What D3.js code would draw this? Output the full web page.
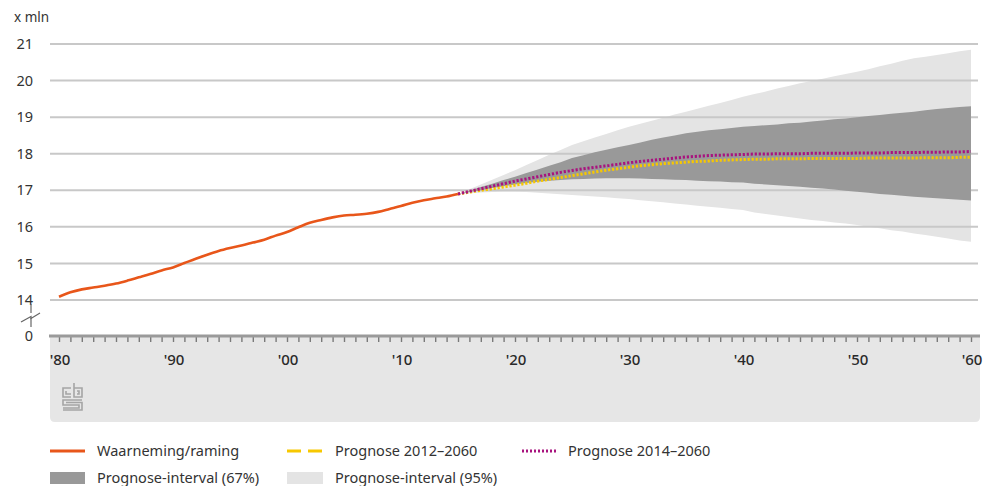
<!DOCTYPE html>
<html>
<head>
<meta charset="utf-8">
<script src="https://cdn.jsdelivr.net/npm/d3@7"></script>
<style>
  html, body { margin: 0; padding: 0; background: #fff; }
  svg { display: block; font-family: "Noto Sans", "Open Sans", sans-serif; }
</style>
</head>
<body>
<svg id="chart" width="984" height="486"></svg>
<script>
// Bevolking Nederland, x mln
const obsYears = d3.range(1980, 2016);
const observed = [14.09, 14.21, 14.29, 14.34, 14.39, 14.45, 14.53, 14.62, 14.71, 14.81,
                  14.89, 15.01, 15.13, 15.24, 15.34, 15.42, 15.49, 15.57, 15.65, 15.76,
                  15.86, 15.99, 16.11, 16.19, 16.26, 16.31, 16.33, 16.36, 16.41, 16.49,
                  16.57, 16.66, 16.73, 16.78, 16.83, 16.90];

const fcYears = d3.range(2015, 2061);
const prognose2014 = [16.90, 16.97, 17.04, 17.11, 17.18, 17.25, 17.31, 17.37, 17.43, 17.49,
                      17.54, 17.59, 17.63, 17.67, 17.71, 17.75, 17.79, 17.82, 17.85, 17.88,
                      17.91, 17.93, 17.95, 17.96, 17.97, 17.98, 17.99, 17.99, 18.00, 18.00,
                      18.00, 18.01, 18.01, 18.01, 18.01, 18.02, 18.02, 18.02, 18.03, 18.03,
                      18.03, 18.04, 18.04, 18.05, 18.05, 18.06];
const prognose2012 = [16.90, 16.95, 17.00, 17.04, 17.09, 17.14, 17.19, 17.25, 17.30, 17.35,
                      17.40, 17.45, 17.50, 17.55, 17.59, 17.63, 17.67, 17.70, 17.73, 17.75,
                      17.77, 17.79, 17.80, 17.82, 17.83, 17.84, 17.85, 17.85, 17.86, 17.86,
                      17.86, 17.87, 17.87, 17.87, 17.87, 17.87, 17.88, 17.88, 17.88, 17.88,
                      17.88, 17.89, 17.89, 17.89, 17.90, 17.90];
const interval67Upper = [16.90, 16.99, 17.09, 17.18, 17.28, 17.37, 17.47, 17.57, 17.67, 17.77,
                         17.88, 17.96, 18.04, 18.11, 18.18, 18.24, 18.31, 18.38, 18.44, 18.50,
                         18.56, 18.60, 18.64, 18.67, 18.70, 18.74, 18.76, 18.78, 18.80, 18.83,
                         18.85, 18.88, 18.91, 18.94, 18.96, 19.00, 19.03, 19.06, 19.09, 19.12,
                         19.15, 19.19, 19.22, 19.25, 19.28, 19.30];
const interval67Lower = [16.90, 16.95, 17.00, 17.06, 17.11, 17.16, 17.20, 17.23, 17.26, 17.28,
                         17.30, 17.31, 17.32, 17.33, 17.33, 17.33, 17.32, 17.31, 17.30, 17.29,
                         17.28, 17.26, 17.25, 17.24, 17.22, 17.21, 17.18, 17.16, 17.14, 17.12,
                         17.10, 17.07, 17.05, 17.02, 16.99, 16.96, 16.93, 16.90, 16.88, 16.85,
                         16.82, 16.80, 16.78, 16.76, 16.74, 16.72];
const interval95Upper = [16.90, 17.03, 17.16, 17.29, 17.42, 17.55, 17.69, 17.83, 17.97, 18.10,
                         18.24, 18.34, 18.44, 18.54, 18.64, 18.74, 18.82, 18.90, 18.98, 19.07,
                         19.15, 19.23, 19.31, 19.39, 19.47, 19.56, 19.63, 19.70, 19.78, 19.85,
                         19.93, 19.99, 20.05, 20.12, 20.18, 20.24, 20.31, 20.39, 20.46, 20.54,
                         20.61, 20.65, 20.70, 20.75, 20.80, 20.84];
const interval95Lower = [16.90, 16.92, 16.94, 16.95, 16.96, 16.96, 16.95, 16.93, 16.91, 16.89,
                         16.87, 16.85, 16.83, 16.81, 16.78, 16.76, 16.73, 16.70, 16.67, 16.64,
                         16.61, 16.58, 16.55, 16.52, 16.49, 16.46, 16.39, 16.35, 16.31, 16.27,
                         16.23, 16.19, 16.16, 16.12, 16.09, 16.05, 16.00, 15.96, 15.91, 15.87,
                         15.82, 15.78, 15.73, 15.68, 15.63, 15.59];

const yTicks = [14, 15, 16, 17, 18, 19, 20, 21];
const xLabelYears = [1980, 1990, 2000, 2010, 2020, 2030, 2040, 2050, 2060];
const legendItems = [
  "Waarneming/raming", "Prognose 2012\u20132060", "Prognose 2014\u20132060",
  "Prognose-interval (67%)", "Prognose-interval (95%)"
];

const colors = {
  observed: "#e8561a", p2012: "#f7c800", p2014: "#a8137e",
  band67: "#999999", band95: "#e4e4e4", grid: "#c8c8c8", text: "#333333"
};

const svg = d3.select("#chart");
const x = d3.scaleLinear().domain([1980, 2060]).range([59, 971]);
const y = d3.scaleLinear().domain([14, 21]).range([300, 44]);
const gridLeft = 50, gridRight = 978;
const axisY = 336;

// grey panel beneath the time axis
svg.append("path")
  .attr("d", (() => {
    const l = gridLeft, r = 980, t = axisY, b = 422, rad = 5;
    return `M${l},${t}H${r}V${b - rad}Q${r},${b} ${r - rad},${b}H${l + rad}Q${l},${b} ${l},${b - rad}Z`;
  })())
  .attr("fill", "#e6e6e6");

const fc = fcYears.map((yr, i) => ({
  yr, p12: prognose2012[i], p14: prognose2014[i],
  u67: interval67Upper[i], l67: interval67Lower[i],
  u95: interval95Upper[i], l95: interval95Lower[i]
}));

// 95% interval
svg.append("path")
  .datum(fc)
  .attr("fill", colors.band95)
  .attr("d", d3.area().x(d => x(d.yr)).y0(d => y(d.l95)).y1(d => y(d.u95)));

// gridlines
svg.append("g").selectAll("line").data(yTicks).join("line")
  .attr("x1", gridLeft).attr("x2", gridRight)
  .attr("y1", d => y(d)).attr("y2", d => y(d))
  .attr("stroke", colors.grid).attr("stroke-width", 2);

// 67% interval
svg.append("path")
  .datum(fc)
  .attr("fill", colors.band67)
  .attr("d", d3.area().x(d => x(d.yr)).y0(d => y(d.l67)).y1(d => y(d.u67)));

// y labels
svg.append("g").selectAll("text").data(yTicks).join("text")
  .attr("x", 33).attr("y", d => y(d)).attr("dy", "0.35em")
  .attr("text-anchor", "end")
  .attr("font-size", 14.5).attr("fill", colors.text)
  .text(d => d);
svg.append("text").attr("x", 33).attr("y", axisY).attr("dy", "0.35em")
  .attr("text-anchor", "end").attr("font-size", 14.5).attr("fill", colors.text).text("0");
svg.append("text").attr("x", 14).attr("y", 17).attr("dy", "0.35em")
  .attr("font-size", 13.5).attr("fill", colors.text).text("x mln");

// axis break mark
const brk = svg.append("g").attr("stroke", "#666").attr("stroke-width", 1.2).attr("fill", "none");
brk.append("line").attr("x1", 31).attr("x2", 31).attr("y1", 304).attr("y2", 313);
brk.append("path").attr("d", "M21,322 L31,316.5 L31,318.5 L40,313");
brk.append("line").attr("x1", 31).attr("x2", 31).attr("y1", 318).attr("y2", 327);

// lines
const line = d3.line().x(d => x(d[0])).y(d => y(d[1])).curve(d3.curveMonotoneX);
svg.append("path")
  .datum(obsYears.map((yr, i) => [yr, observed[i]]))
  .attr("fill", "none").attr("stroke", colors.observed).attr("stroke-width", 2.6)
  .attr("d", line);
svg.append("path")
  .datum(fc.map(d => [d.yr, d.p12]))
  .attr("fill", "none").attr("stroke", colors.p2012).attr("stroke-width", 3)
  .attr("stroke-dasharray", "2.2,1.8")
  .attr("d", line);
svg.append("path")
  .datum(fc.map(d => [d.yr, d.p14]))
  .attr("fill", "none").attr("stroke", colors.p2014).attr("stroke-width", 3)
  .attr("stroke-dasharray", "2.2,1.8")
  .attr("d", line);

// time axis
const xAxis = d3.axisBottom(x)
  .tickValues(d3.range(1980, 2061))
  .tickSize(5)
  .tickFormat("");
const gx = svg.append("g").attr("transform", `translate(0,${axisY + 1})`).call(xAxis);
gx.select(".domain").remove();
gx.selectAll(".tick line").attr("stroke", "#7a7a7a").attr("stroke-width", 1.4);
svg.append("line").attr("x1", gridLeft - 1).attr("x2", 980)
  .attr("y1", axisY).attr("y2", axisY)
  .attr("stroke", "#9a9a9a").attr("stroke-width", 3);
svg.append("g").selectAll("text").data(xLabelYears).join("text")
  .attr("x", d => x(d) + 1).attr("y", 360).attr("dy", "0.35em")
  .attr("text-anchor", "middle").attr("font-size", 15).attr("fill", "#2a2a2a")
  .attr("font-weight", 500)
  .text(d => "'" + String(d % 100).padStart(2, "0"));

// logo
const logo = svg.append("g").attr("transform", "translate(62,383)")
  .attr("fill", "none").attr("stroke", "#a5a5a5").attr("stroke-width", 1.6);
logo.append("path").attr("d", "M9,5 H1 V14 H9");
logo.append("path").attr("d", "M4,8 V11 H9");
logo.append("path").attr("d", "M12,0 V14 H20 V5 H12");
logo.append("path").attr("d", "M15,8 H17 V11 H15");
logo.append("path").attr("d", "M20,17 H1 V22 H17 V25 H1");
logo.append("path").attr("d", "M4,19.5 H20 V27 H1");

// legend
const lg = svg.append("g").attr("font-size", 14.5).attr("fill", colors.text);
const row1 = 451, row2 = 478;
lg.append("line").attr("x1", 50).attr("x2", 85).attr("y1", row1).attr("y2", row1)
  .attr("stroke", colors.observed).attr("stroke-width", 3);
lg.append("line").attr("x1", 287).attr("x2", 322).attr("y1", row1).attr("y2", row1)
  .attr("stroke", colors.p2012).attr("stroke-width", 3).attr("stroke-dasharray", "14,7");
lg.append("line").attr("x1", 522).attr("x2", 558).attr("y1", row1).attr("y2", row1)
  .attr("stroke", colors.p2014).attr("stroke-width", 3).attr("stroke-dasharray", "2,2");
lg.append("rect").attr("x", 50).attr("y", row2 - 6).attr("width", 35).attr("height", 12)
  .attr("fill", colors.band67);
lg.append("rect").attr("x", 287).attr("y", row2 - 6).attr("width", 36).attr("height", 12)
  .attr("fill", colors.band95);
const legendPos = [[97, row1], [335, row1], [568, row1], [97, row2], [335, row2]];
lg.selectAll("text").data(legendItems).join("text")
  .attr("x", (d, i) => legendPos[i][0]).attr("y", (d, i) => legendPos[i][1])
  .attr("dy", "0.35em")
  .text(d => d);
</script>
</body>
</html>
